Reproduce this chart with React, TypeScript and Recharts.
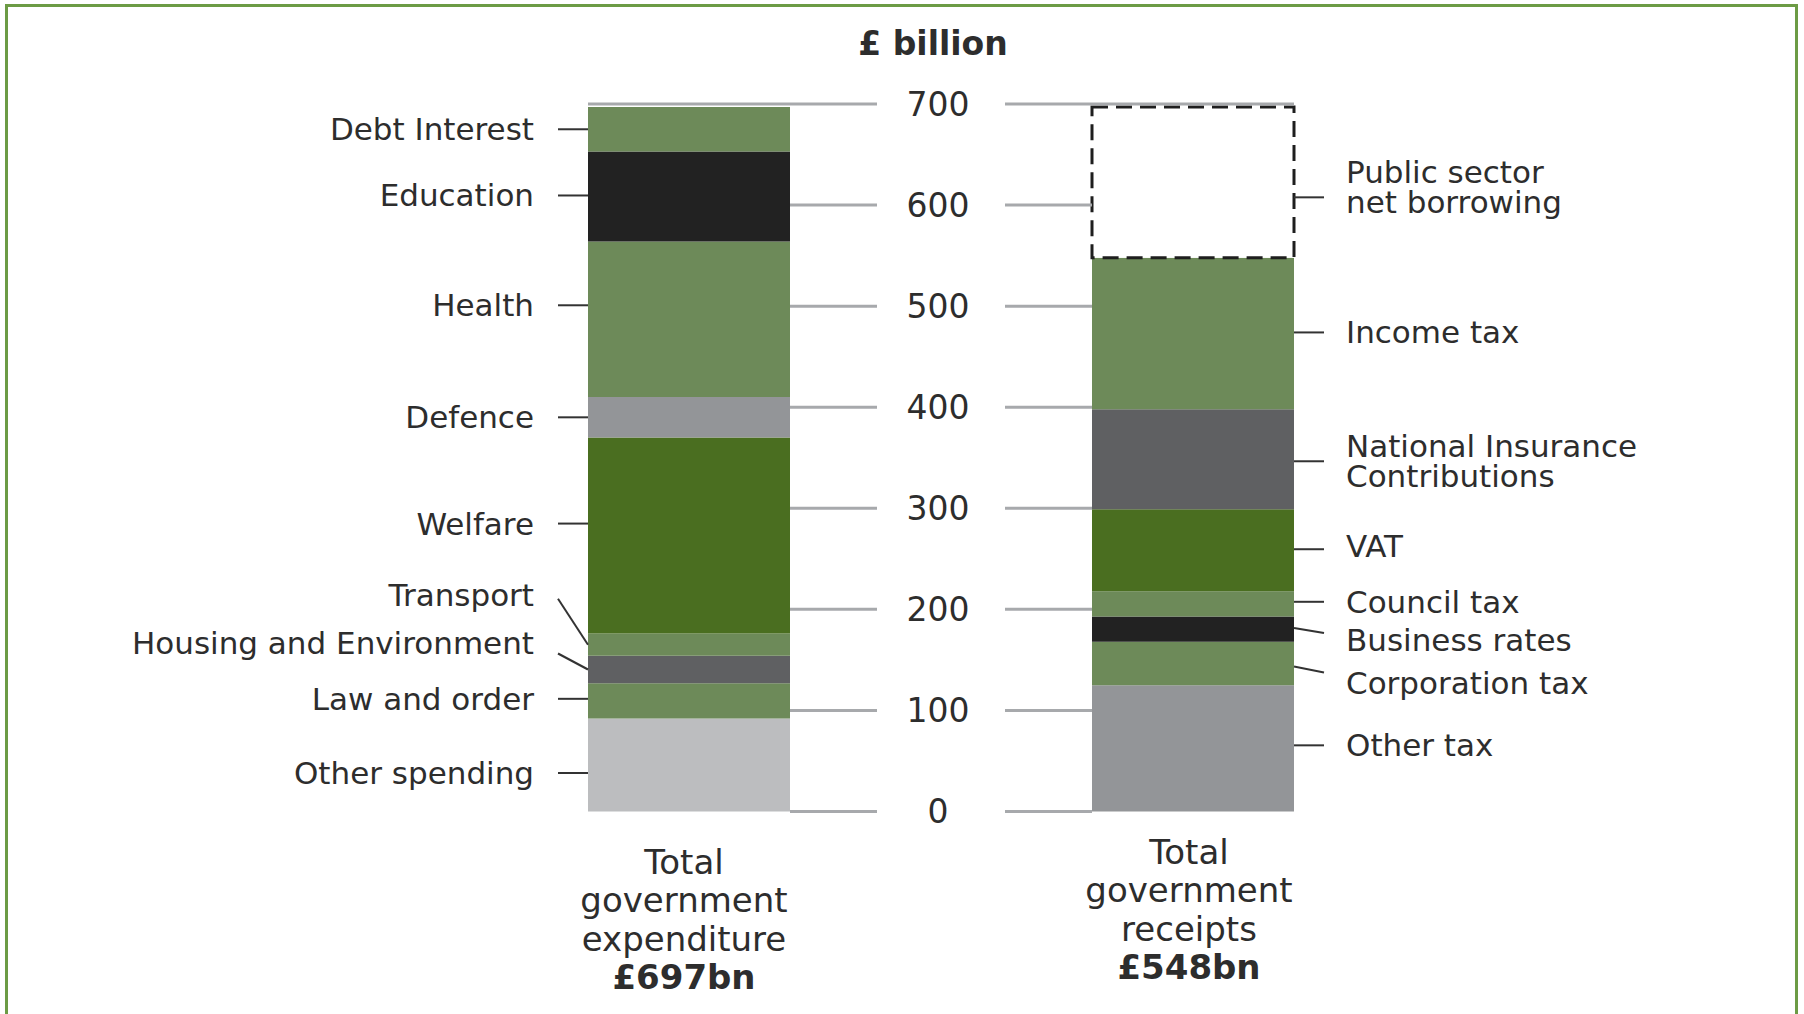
import React from "react";
import { BarChart, Bar, XAxis, YAxis } from "recharts";

// ---------- data ----------
const categories = ["Total government expenditure", "Total government receipts"];
const categoryTotals = ["£697bn", "£548bn"];

// bottom-up order of the stack
const spendingItems = [
  "Other spending",
  "Law and order",
  "Housing and Environment",
  "Transport",
  "Welfare",
  "Defence",
  "Health",
  "Education",
  "Debt Interest",
];
const spendingValues = [92, 35, 27, 22, 194, 40, 154, 89, 44];

const receiptItems = [
  "Other tax",
  "Corporation tax",
  "Business rates",
  "Council tax",
  "VAT",
  "National Insurance\nContributions",
  "Income tax",
  "Public sector\nnet borrowing",
];
const receiptValues = [125, 43, 25, 25, 81, 99, 150, 149];

const yTicks = [0, 100, 200, 300, 400, 500, 600, 700];
const unitTitle = "£ billion";

// ---------- styles / layout ----------
const FONT = "'DejaVu Sans', Verdana, sans-serif";
const TEXT = "#2d2d2d";
const C = {
  mid: "#6d8a59",
  dark: "#4a6e20",
  black: "#222222",
  grey: "#939598",
  light: "#bcbdbf",
  slate: "#5f6062",
};
const spendingFills = [C.light, C.mid, C.slate, C.mid, C.dark, C.grey, C.mid, C.black, C.mid];
const receiptFills = [C.grey, C.mid, C.black, C.mid, C.dark, C.slate, C.mid, "#ffffff"];

// t: text centre offset, n: leader offset at bar edge, f: leader offset at far end
const spendingLabelPos = [
  { t: 8, n: 8, f: 8 },
  { t: -2, n: -2, f: -2 },
  { t: -26, n: 0, f: -16 },
  { t: -50, n: 0, f: -46 },
  { t: -12, n: -12, f: -12 },
  { t: 0, n: 0, f: 0 },
  { t: -14, n: -14, f: -14 },
  { t: -1, n: -1, f: -1 },
  { t: 0, n: 0, f: 0 },
];
const receiptLabelPos = [
  { t: -3, n: -3, f: -3 },
  { t: 20, n: 3, f: 9 },
  { t: 11, n: -1, f: 4 },
  { t: -2, n: -2, f: -2 },
  { t: -4, n: -1, f: -1 },
  { t: 2, n: 2, f: 2 },
  { t: -1, n: -1, f: -1 },
  { t: 5, n: 15, f: 15 },
];

const W = 1804;
const H = 1014;
const PLOT_LEFT = 437;
const Y_AXIS_W = 1;
const BAND = 504;
const BAR = 202;
const leftBarL = PLOT_LEFT + BAND / 2 - BAR / 2;
const leftBarR = leftBarL + BAR;
const rightBarL = PLOT_LEFT + BAND * 1.5 - BAR / 2;
const rightBarR = rightBarL + BAR;
const AXIS_X = 938;
const GRID_L_END = 877;
const GRID_R_START = 1005;

// ---------- chart rows ----------
const spendKeys = spendingItems.map((_, i) => `s${i}`);
const recKeys = receiptItems.map((_, i) => `r${i}`);
const rows = categories.map((name, ci) => {
  const row: Record<string, any> = { name };
  spendKeys.forEach((k, i) => (row[k] = ci === 0 ? spendingValues[i] : 0));
  recKeys.forEach((k, i) => (row[k] = ci === 1 ? receiptValues[i] : 0));
  return row;
});

function makeLabel(side: "left" | "right", text: string, pos: { t: number; n: number; f: number }) {
  return (props: any) => {
    const vb = props.viewBox && props.viewBox.width !== undefined ? props.viewBox : props;
    const x = Number(vb.x);
    const y = Number(vb.y);
    const w = Number(vb.width);
    const h = Number(vb.height);
    if (!isFinite(x) || !isFinite(y) || !isFinite(h) || Math.abs(h) < 0.5) return null;
    const top = Math.min(y, y + h);
    const cy = top + Math.abs(h) / 2;
    const edge = side === "left" ? x : x + w;
    const far = side === "left" ? edge - 30 : edge + 30;
    const tx = side === "left" ? edge - 54 : edge + 52;
    const lines = text.split("\n");
    const lh = 30;
    const tcy = cy + pos.t;
    return (
      <g key={`lbl-${text}`}>
        <line x1={edge} y1={cy + pos.n} x2={far} y2={cy + pos.f} stroke="#333" strokeWidth={2} />
        <text
          textAnchor={side === "left" ? "end" : "start"}
          fontFamily={FONT}
          fontSize={31}
          fill={TEXT}
        >
          {lines.map((ln, i) => (
            <tspan key={i} x={tx} y={tcy + (i - (lines.length - 1) / 2) * lh + 11}>
              {ln}
            </tspan>
          ))}
        </text>
      </g>
    );
  };
}

const catDy = [62, 52];
const catDx = [-5, -4];

const CategoryTick = (props: any) => {
  const { x, y, payload } = props;
  const i = categories.indexOf(payload.value);
  if (i < 0) return null;
  const words = String(payload.value).split(" ");
  const cx = x + catDx[i];
  const base = y + catDy[i];
  const step = 38.5;
  return (
    <g>
      <text textAnchor="middle" fontFamily={FONT} fontSize={34} fill={TEXT}>
        {words.map((wd, k) => (
          <tspan key={k} x={cx} y={base + k * step}>
            {wd}
          </tspan>
        ))}
      </text>
      <text
        x={cx}
        y={base + words.length * step}
        textAnchor="middle"
        fontFamily={FONT}
        fontSize={34}
        fontWeight="bold"
        fill={TEXT}
      >
        {categoryTotals[i]}
      </text>
    </g>
  );
};

const ValueTick = (props: any) => {
  const { y, payload } = props;
  const v = payload.value;
  const isTop = v === yTicks[yTicks.length - 1];
  return (
    <g>
      <line x1={isTop ? leftBarL : leftBarR} x2={GRID_L_END} y1={y} y2={y} stroke="#a7a9ac" strokeWidth={3} />
      <line x1={GRID_R_START} x2={isTop ? rightBarR : rightBarL} y1={y} y2={y} stroke="#a7a9ac" strokeWidth={3} />
      <text x={AXIS_X} y={y + 11.5} textAnchor="middle" fontFamily={FONT} fontSize={33} fill={TEXT}>
        {v}
      </text>
    </g>
  );
};

export default function App() {
  return (
    <div
      style={{
        position: "absolute",
        left: 0,
        top: 0,
        width: W,
        height: H,
        overflow: "hidden",
        background: "#ffffff",
      }}
    >
      <div
        style={{
          position: "absolute",
          left: 5,
          top: 4,
          width: 1793,
          height: 1040,
          boxSizing: "border-box",
          border: "3px solid #6c9b45",
        }}
      />
      <svg style={{ position: "absolute", left: 0, top: 0 }} width={W} height={80}>
        <text x={933} y={55} textAnchor="middle" fontFamily={FONT} fontSize={33} fontWeight="bold" fill={TEXT}>
          {unitTitle}
        </text>
      </svg>
      <div style={{ position: "absolute", left: 0, top: 0 }}>
        <BarChart
          width={W}
          height={H}
          data={rows}
          margin={{ top: 104, right: W - PLOT_LEFT - 2 * BAND, bottom: 2.5, left: PLOT_LEFT - Y_AXIS_W }}
          barSize={BAR}
        >
          <XAxis
            dataKey="name"
            height={200}
            axisLine={false}
            tickLine={false}
            tickSize={0}
            tickMargin={0}
            interval={0}
            tick={CategoryTick}
          />
          <YAxis
            width={Y_AXIS_W}
            type="number"
            domain={[0, 700]}
            ticks={yTicks}
            interval={0}
            axisLine={false}
            tickLine={false}
            tick={ValueTick}
          />
          {spendKeys.map((k, i) => (
            <Bar
              key={k}
              dataKey={k}
              stackId="a"
              fill={spendingFills[i]}
              isAnimationActive={false}
              label={makeLabel("left", spendingItems[i], spendingLabelPos[i])}
            />
          ))}
          {recKeys.map((k, i) => {
            const isBorrow = i === recKeys.length - 1;
            return (
              <Bar
                key={k}
                dataKey={k}
                stackId="a"
                fill={receiptFills[i]}
                stroke={isBorrow ? "#1e1e1e" : undefined}
                strokeWidth={isBorrow ? 3 : 0}
                strokeDasharray={isBorrow ? "16 8" : undefined}
                isAnimationActive={false}
                label={makeLabel("right", receiptItems[i], receiptLabelPos[i])}
              />
            );
          })}
        </BarChart>
      </div>
    </div>
  );
}
